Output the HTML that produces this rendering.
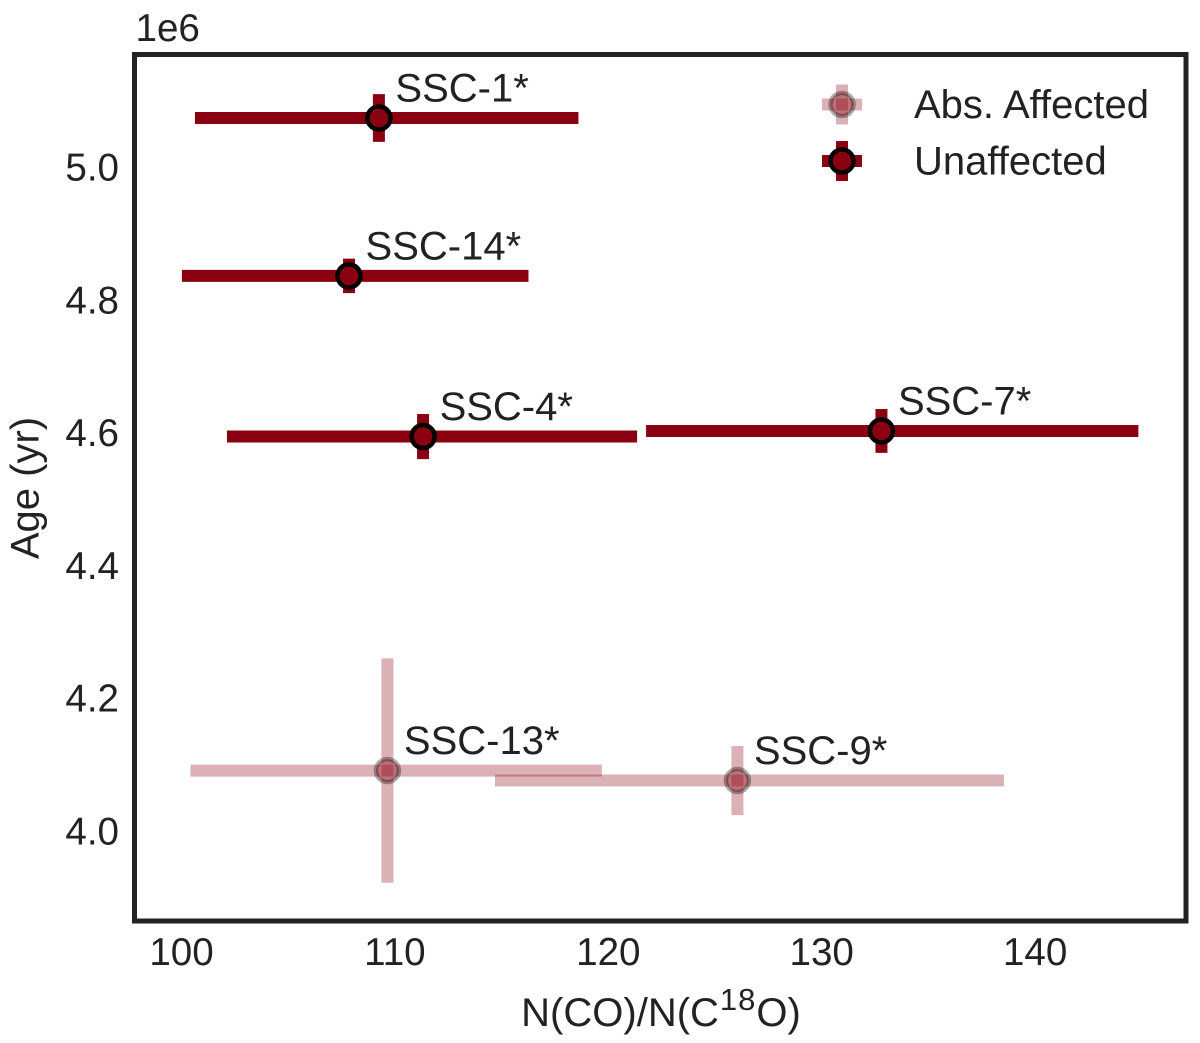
<!DOCTYPE html>
<html lang="en">
<head>
<meta charset="utf-8">
<title>Age vs N(CO)/N(C18O)</title>
<style>
html,body{margin:0;padding:0;background:#fff;width:1200px;height:1043px;overflow:hidden}
svg{display:block}
text{font-family:"Liberation Sans",sans-serif;fill:#222;font-size:40px}
.tick{font-size:38.6px}
</style>
</head>
<body>
<svg id="chart" width="1200" height="1043" viewBox="0 0 1200 1043" xmlns="http://www.w3.org/2000/svg">
  <rect x="134.5" y="54.5" width="1051.5" height="866.5" fill="#fff" stroke="#222" stroke-width="5"/>
  <g id="x-ticks"></g>
  <g id="y-ticks"></g>
  <text class="tick" x="135.5" y="41">1e6</text>
  <text x="661" y="1026" text-anchor="middle">N(CO)/N(C<tspan dy="-16" dx="1" font-size="31" letter-spacing="1">18</tspan><tspan dy="16">O)</tspan></text>
  <text transform="translate(38.5,488) rotate(-90)" text-anchor="middle">Age (yr)</text>
  <g id="series"></g>
  <g id="legend"></g>
</svg>
<script>
const labels = ["SSC-1*", "SSC-14*", "SSC-4*", "SSC-7*", "SSC-13*", "SSC-9*"];
const affected = [false, false, false, false, true, true];
const ratioValues = [109.25, 107.85, 111.32, 132.8, 109.65, 126.05];
const ratioLow = [100.63, 100.02, 102.13, 121.77, 100.42, 114.69];
const ratioHigh = [118.6, 116.26, 121.35, 144.84, 119.7, 138.54];
const ageValues = [5.0753, 4.8375, 4.5956, 4.604, 4.0925, 4.0775];
const ageErrors = [0.036, 0.026, 0.034, 0.033, 0.169, 0.052];
const xTickValues = [100, 110, 120, 130, 140];
const yTickValues = [4.0, 4.2, 4.4, 4.6, 4.8, 5.0];
const legendLabels = ["Abs. Affected", "Unaffected"];
const legendAffected = [true, false];

const NS = "http://www.w3.org/2000/svg";
const MAROON = "#8b0010";
function xScale(v) { return 181.5 + (v - 100) * 21.34; }
function yScale(v) { return 832 - (v - 4) * 664; }

function make(tag, attrs, parent) {
  const el = document.createElementNS(NS, tag);
  for (const k in attrs) el.setAttribute(k, attrs[k]);
  parent.appendChild(el);
  return el;
}

function drawMarker(parent, cx, cy, x1, x2, y1, y2, isAffected, key) {
  const group = make("g", {}, parent);
  
  
  const barAlpha = isAffected ? 0.3 : 1;
  const fillAlpha = isAffected ? 0.36 : 1;
  const edgeAlpha = isAffected ? 0.32 : 1;
  const hBar = make("line", { x1: x1, x2: x2, y1: cy, y2: cy, stroke: MAROON, "stroke-width": 12, opacity: barAlpha }, group);
  
  
  const vBar = make("line", { x1: cx, x2: cx, y1: y1, y2: y2, stroke: MAROON, "stroke-width": 12, opacity: barAlpha }, group);
  
  
  const dot = make("circle", { cx: cx, cy: cy, r: 11.5, fill: MAROON, "fill-opacity": fillAlpha, stroke: "#000", "stroke-opacity": edgeAlpha, "stroke-width": 4.5 }, group);
  
  
}

const xTicks = document.getElementById("x-ticks");
xTickValues.forEach(function (v) {
  const t = make("text", { class: "tick", x: xScale(v), y: 965, "text-anchor": "middle" }, xTicks);
  
  
  t.textContent = String(v);
});

const yTicks = document.getElementById("y-ticks");
yTickValues.forEach(function (v) {
  const t = make("text", { class: "tick", x: 119, y: yScale(v) + 12.5, "text-anchor": "end" }, yTicks);
  
  
  t.textContent = v.toFixed(1);
});

const series = document.getElementById("series");
labels.forEach(function (label, i) {
  const cx = xScale(ratioValues[i]);
  const cy = yScale(ageValues[i]);
  const key = label.replace("*", "").toLowerCase();
  drawMarker(series, cx, cy, xScale(ratioLow[i]), xScale(ratioHigh[i]),
    yScale(ageValues[i] + ageErrors[i]), yScale(ageValues[i] - ageErrors[i]), affected[i], key);
  const t = make("text", { x: cx + 16.5, y: cy - 16.5 }, series);
  
  
  t.textContent = label;
});

const legend = document.getElementById("legend");
legendLabels.forEach(function (label, i) {
  const cy = 104.5 + i * 56.5;
  const key = 'legend-' + label.toLowerCase().replace(/[^a-z]+/g, '-');
  drawMarker(legend, 842, cy, 822, 862, cy - 20, cy + 20, legendAffected[i], key);
  const t = make("text", { x: 914, y: cy + 13.5 }, legend);
  
  
  t.textContent = label;
});
</script>
</body>
</html>
